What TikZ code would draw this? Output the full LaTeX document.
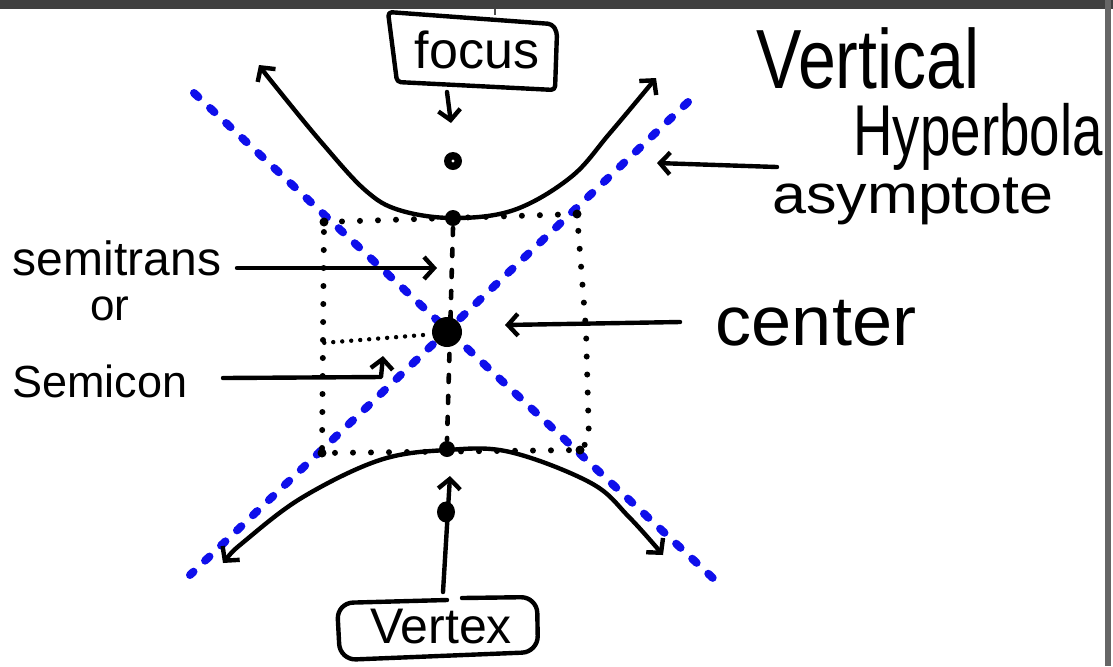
\documentclass[tikz,border=0pt]{standalone}
\usepackage{fontspec}
\setmainfont{Liberation Sans}
\usetikzlibrary{arrows.meta,shapes.geometric}
\definecolor{asymblue}{RGB}{15,15,235}
\tikzset{
  hand/.style={line width=2.2pt, line cap=round, line join=round},
  arr/.style={hand, -{Straight Barb[length=5pt,width=11pt]}},
  dblarr/.style={hand, {Straight Barb[length=5pt,width=11pt]}-{Straight Barb[length=5pt,width=11pt]}},
  asym/.style={asymblue, line width=4pt, line cap=round, dash pattern=on 3pt off 8pt},
  dotbox/.style={line width=3pt, line cap=round, dash pattern=on 0pt off 9pt},
  hdot/.style={line width=2.2pt, line cap=round, dash pattern=on 0pt off 4.5pt},
  vdash/.style={line width=2.3pt, line cap=round, dash pattern=on 3.5pt off 7pt},
  dot/.style={circle, fill=black, inner sep=0pt},
  lab/.style={anchor=base, inner sep=0pt},
}
\newcommand{\fsz}[1]{\fontsize{#1}{#1}\selectfont}
\begin{document}
\begin{tikzpicture}[x=0.5pt,y=-0.5pt]
\useasboundingbox (0,0) rectangle (1113,666);
% window frame
\fill[black!75] (0,0) rectangle (1113,9);
\fill[black!60] (1105,0) rectangle (1111,666);
\draw[black!70, line width=1.2pt] (495,9) -- (495,15);
% asymptotes
\draw[asym] (194,93) -- (715,580);
\draw[asym] (688,102) -- (190,575);
% dotted box
\draw[dotbox] (324,222) -- (577,214) -- (586,330) -- (589,440) -- (580,450) -- (322,453) -- cycle;
% vertical dashed axis
\draw[vdash] (453,228) -- (447,440);
% horizontal dotted semi-conjugate
\draw[hdot] (423,335) -- (322,343);
% dots
\node[dot, minimum size=15pt] (C) at (447,332) {};
\node[dot, minimum size=8pt] (V1) at (453,218) {};
\node[dot, minimum size=8pt] (V2) at (447,449) {};
\node[dot, minimum size=9pt] (F) at (453,161) {};
\fill[white] (F.center) circle[radius=0.8pt];
\node[dot, minimum size=4.5pt] (k1) at (324,222) {};
\node[dot, minimum size=4.5pt] (k2) at (577,214) {};
\node[dot, minimum size=4.5pt] (k3) at (322,453) {};
\node[dot, minimum size=4.5pt] (k4) at (580,450) {};
% hyperbola branches
\draw[dblarr] plot[smooth, tension=0.6] coordinates {(259,65) (276,87) (322,143) (365,190) (399,210) (453,218) (514,210) (571,177) (610,133) (656,78)};
\draw[dblarr] plot[smooth, tension=0.6] coordinates {(223,563) (246,540) (303,497) (380,460) (447,450) (510,452) (591,483) (629,517) (663,555)};
% focus label
\node[lab] (focusT) at (477,68) {\fsz{26}focus};
\draw[hand, rounded corners=2pt] (388,12) -- (552,24) -- (557,32) -- (555,90) -- (397,82) -- cycle;
\coordinate (fboxb) at (447,92);
\coordinate (ftip) at (451,123);
\draw[arr] (fboxb) -- (ftip);
% title
\node[lab] (T1) at (868,88) {\fsz{42}\scalebox{0.81}[1]{Vertical}};
\node[lab] (T2) at (978,155) {\fsz{36}\scalebox{0.76}[1]{Hyperbola}};
% asymptote label
\node[lab] (asT) at (913,213) {\fsz{27.5}\scalebox{1.11}[1]{asymptote}};
\coordinate (asS) at (777,167);
\coordinate (asE) at (657,163);
\draw[arr] (asS) -- (asE);
% center label
\node[lab] (cT) at (816,345) {\fsz{35}\scalebox{1.03}[1]{center}};
\coordinate (cS) at (680,322);
\coordinate (cE) at (505,325);
\draw[arr] (cS) -- (cE);
% semitrans / semicon
\node[lab] (stT) at (117,275) {\fsz{24}semitrans};
\node[lab] (orT) at (110,320) {\fsz{22}or};
\node[lab] (scT) at (100,397) {\fsz{22.5}Semicon};
\coordinate (stS) at (237,268);
\coordinate (stE) at (437,268);
\draw[arr] (stS) -- (stE);
\coordinate (scS) at (223,378);
\coordinate (scM) at (381,377);
\coordinate (scE) at (383,356);
\draw[arr] (scS) -- (scM) -- (scE);
% vertex label
\node[lab] (vT) at (441,643) {\fsz{25}Vertex};
\draw[hand, rounded corners=8pt] (462,598) -- (537,597) -- (538,652) -- (340,660) -- (337,603) -- (447,600);
\coordinate (vS) at (443,592);
\coordinate (vE) at (450,476);
\draw[arr] (vS) -- (vE);
\node[dot, minimum width=9pt, minimum height=10.5pt, ellipse] (vd) at (446,512) {};
\end{tikzpicture}
\end{document}
